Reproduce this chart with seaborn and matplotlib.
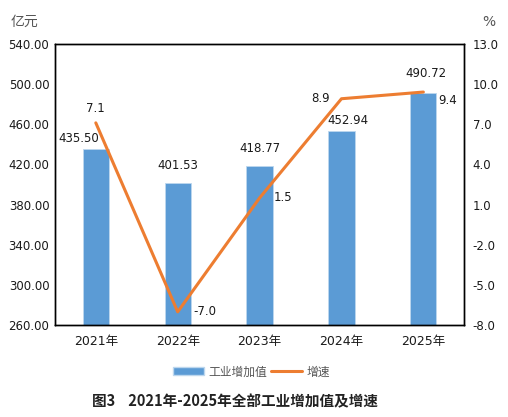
import pandas as pd
import matplotlib
matplotlib.use('Agg')
import matplotlib.pyplot as plt
import seaborn as sns
from matplotlib.patches import Patch
from matplotlib.lines import Line2D

#chart data
years = ['2021年', '2022年', '2023年', '2024年', '2025年']
value_added = [435.50, 401.53, 418.77, 452.94, 490.72]
growth = [7.1, -7.0, 1.5, 8.9, 9.4]

left_ticks = [260, 300, 340, 380, 420, 460, 500, 540]
right_ticks = [-8.0, -5.0, -2.0, 1.0, 4.0, 7.0, 10.0, 13.0]

bar_color = '#5B9BD5'
line_color = '#ED7D31'
txt = '#1a1a1a'

sns.set_style('white')
plt.rcParams['font.family'] = ['DejaVu Sans', 'Noto Sans CJK SC']
cjk = ['DejaVu Sans', 'Noto Sans CJK SC']
cjk_first = ['Noto Sans CJK SC', 'DejaVu Sans']

df = pd.DataFrame({'year': years, 'value': value_added, 'growth': growth})

fig = plt.figure(figsize=(5.08, 4.17), dpi=100)
ax = fig.add_axes([0.108, 0.22, 0.806, 0.675])

sns.barplot(data=df, x='year', y='value', color=bar_color, width=0.32,
            saturation=1, edgecolor='#BDD7EE', linewidth=0.6, ax=ax)
ax.set_ylim(260, 540)
ax.set_yticks(left_ticks)
ax.set_yticklabels(['{:.2f}'.format(t) for t in left_ticks], fontsize=8.5, color=txt)
ax.set_xlabel('')
ax.set_ylabel('')
ax.set_xlim(-0.5, 4.5)
ax.set_xticks(range(len(years)))
ax.set_xticklabels(years, fontsize=9, color=txt, family=cjk)
ax.tick_params(axis='y', length=0, pad=4)
ax.tick_params(axis='x', length=0, pad=7)

#bar labels: offsets in points, as the original places them
bar_off = [(-12, 3), (0, 8), (0, 8), (5, 3), (1.5, 9.5)]
for i, v in enumerate(value_added):
    dx, dy = bar_off[i]
    ax.annotate('{:.2f}'.format(v), (i, v), xytext=(dx, dy), textcoords='offset points',
                ha='center', va='bottom', fontsize=8.5, color=txt)

ax2 = ax.twinx()
sns.lineplot(data=df, x='year', y='growth', color=line_color, linewidth=2.2,
             sort=False, ax=ax2)
ax2.set_ylim(-8, 13)
ax2.set_yticks(right_ticks)
ax2.set_yticklabels(['{:.1f}'.format(t) for t in right_ticks], fontsize=8.5, color=txt)
ax2.set_ylabel('')
ax2.tick_params(length=0, pad=6)

#growth labels, placed like the original
offsets = [(0, 6, 'center', 'bottom'), (11, 0, 'left', 'center'),
           (10, 0, 'left', 'center'), (-8, 0, 'right', 'center'), (11, -6, 'left', 'center')]
for i, g in enumerate(growth):
    dx, dy, ha, va = offsets[i]
    ax2.annotate('{:.1f}'.format(g), (i, g), xytext=(dx, dy), textcoords='offset points',
                 ha=ha, va=va, fontsize=8.5, color=txt)

for a in (ax, ax2):
    for s in a.spines.values():
        s.set_color('black')
        s.set_linewidth(1)

fig.text(0.02, 0.947, '亿元', fontsize=10, color='#555555', family=cjk_first, va='center')
fig.text(0.962, 0.947, '%', fontsize=10, color='#555555', ha='center', va='center')

handles = [Patch(facecolor=bar_color, edgecolor='#BDD7EE'),
           Line2D([0], [0], color=line_color, linewidth=2.2)]
fig.legend(handles, ['工业增加值', '增速'], loc='center', bbox_to_anchor=(0.495, 0.108),
           ncol=2, frameon=False, prop={'family': cjk_first, 'size': 8.5},
           handlelength=2.6, handletextpad=0.4, columnspacing=0.3, labelcolor='#555555')

fig.text(0.462, 0.038, '图3    2021年-2025年全部工业增加值及增速', ha='center', va='center',
         fontsize=10.5, fontweight='bold', color='#222222', family=cjk_first)

fig.savefig('out.png', dpi=100)
